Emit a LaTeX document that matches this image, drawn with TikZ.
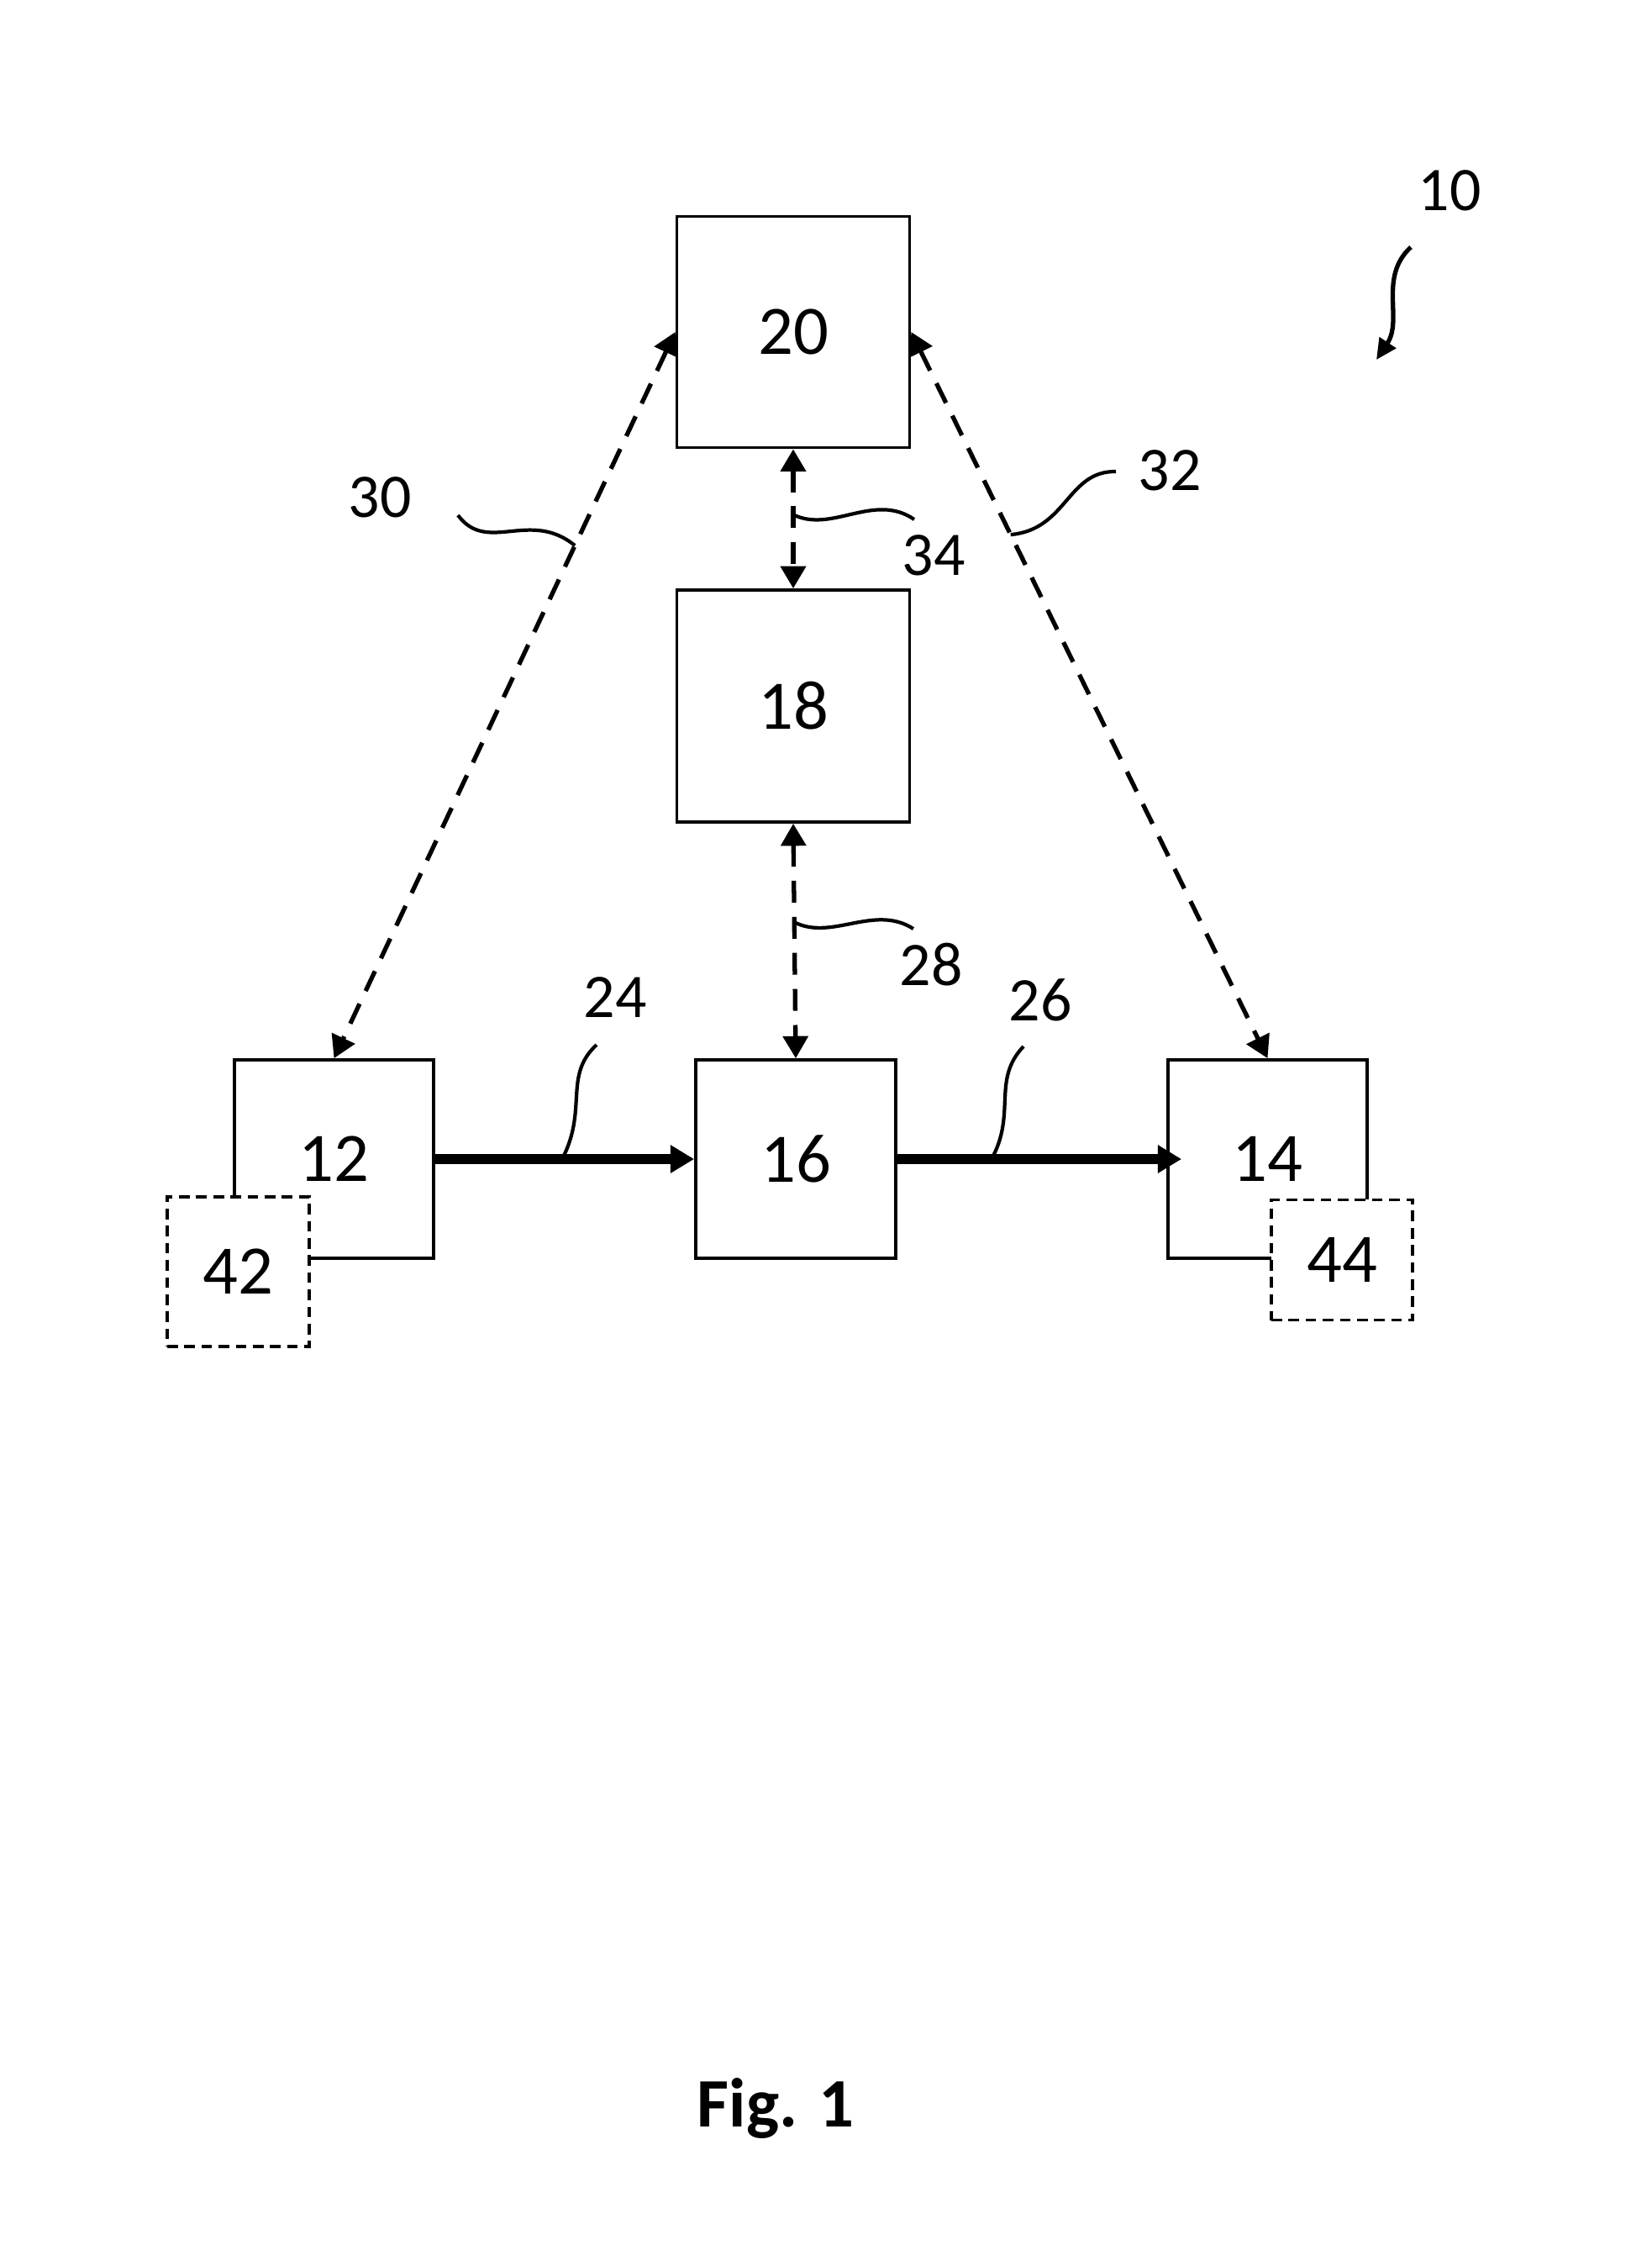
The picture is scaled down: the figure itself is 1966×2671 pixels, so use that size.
\documentclass[tikz,border=0pt]{standalone}
\usepackage{fontspec}
\setmainfont{Carlito}
\usetikzlibrary{arrows.meta}

\tikzset{
  blockbox/.style={draw, line width=1.05pt, fill=white, inner sep=0pt,
    font=\fontsize{23.5}{28}\selectfont},
  optbox/.style={blockbox, dash pattern=on 3.6pt off 2.2pt},
  link/.style={line width=1.5pt, dash pattern=on 7.4pt off 4.8pt,
    {Triangle[length=7.5pt,width=8.4pt]}-{Triangle[length=7.5pt,width=8.4pt]}},
  flow/.style={line width=3.3pt, -{Triangle[length=8pt,width=9pt]}},
  leader/.style={line width=1.2pt},
  refnum/.style={font=\fontsize{21}{25}\selectfont, inner sep=0pt},
}

\begin{document}
\begin{tikzpicture}[x=0.01cm,y=-0.01cm]
  \useasboundingbox (0,0) rectangle (1966,2671);

  % blocks
  \node[blockbox, minimum width=2.77cm, minimum height=2.75cm] (n20) at (944,395) {20};
  \node[blockbox, minimum width=2.77cm, minimum height=2.76cm] (n18) at (944,840) {18};
  \node[blockbox, minimum width=2.37cm, minimum height=2.36cm] (n12) at (397.5,1379) {12};
  \node[blockbox, minimum width=2.38cm, minimum height=2.36cm] (n16) at (947,1379) {16};
  \node[blockbox, minimum width=2.37cm, minimum height=2.36cm] (n14) at (1508.5,1379) {14};
  \node[optbox, minimum width=1.69cm, minimum height=1.78cm] (n42) at (283.5,1513) {42};
  \node[optbox, minimum width=1.68cm, minimum height=1.43cm] (n44) at (1597,1499) {44};

  % connections
  \draw[link] (n20.west) -- coordinate[pos=0.294] (c30) (n12.north);
  \draw[link] (n20.east) -- coordinate[pos=0.279] (c32) (n14.north);
  \draw[link] (n20.south) -- coordinate[pos=0.47] (c34) (n18.north);
  \draw[link] (n18.south) -- coordinate[pos=0.42] (c28) (n16.north);
  \draw[flow] (n12.east) -- coordinate[pos=0.49] (c24) (n16.west);
  \draw[flow, shorten >=-0.18cm] (n16.east) -- coordinate[pos=0.35] (c26) (n14.west);

  % reference numerals
  \node[refnum] (l10) at (1725,227) {10};
  \node[refnum] (l30) at (452,592) {30};
  \node[refnum] (l32) at (1392,560) {32};
  \node[refnum] (l34) at (1111,661) {34};
  \node[refnum] (l28) at (1108,1148) {28};
  \node[refnum] (l24) at (732,1187) {24};
  \node[refnum] (l26) at (1238,1190) {26};

  \coordinate (e30) at (545,613);
  \coordinate (e32) at (1328,561);
  \coordinate (e34) at (1088,618);
  \coordinate (e28) at (1087,1105);
  \coordinate (e24) at (710,1243);
  \coordinate (e26) at (1218,1245);
  \coordinate (s10) at (1679,294);
  \coordinate (t10) at (1638,428);

  \draw[leader] (e30) .. controls (580,660) and (630,605) .. (c30);
  \draw[leader] (e32) .. controls (1270,560) and (1270,630) .. (c32);
  \draw[leader] (e34) .. controls (1040,585) and (990,635) .. (c34);
  \draw[leader] (e28) .. controls (1040,1075) and (990,1120) .. (c28);
  \draw[leader] (e24) .. controls (670,1280) and (700,1320) .. (c24);
  \draw[leader] (e26) .. controls (1180,1285) and (1210,1325) .. (c26);
  \draw[line width=1.5pt, -{Triangle[length=7pt,width=6.5pt]}]
    (s10) .. controls (1640,330) and (1670,380) .. (t10);

  \node[font=\bfseries\fontsize{23.5}{28}\selectfont] (fig) at (923,2508) {Fig. 1};
\end{tikzpicture}
\end{document}
